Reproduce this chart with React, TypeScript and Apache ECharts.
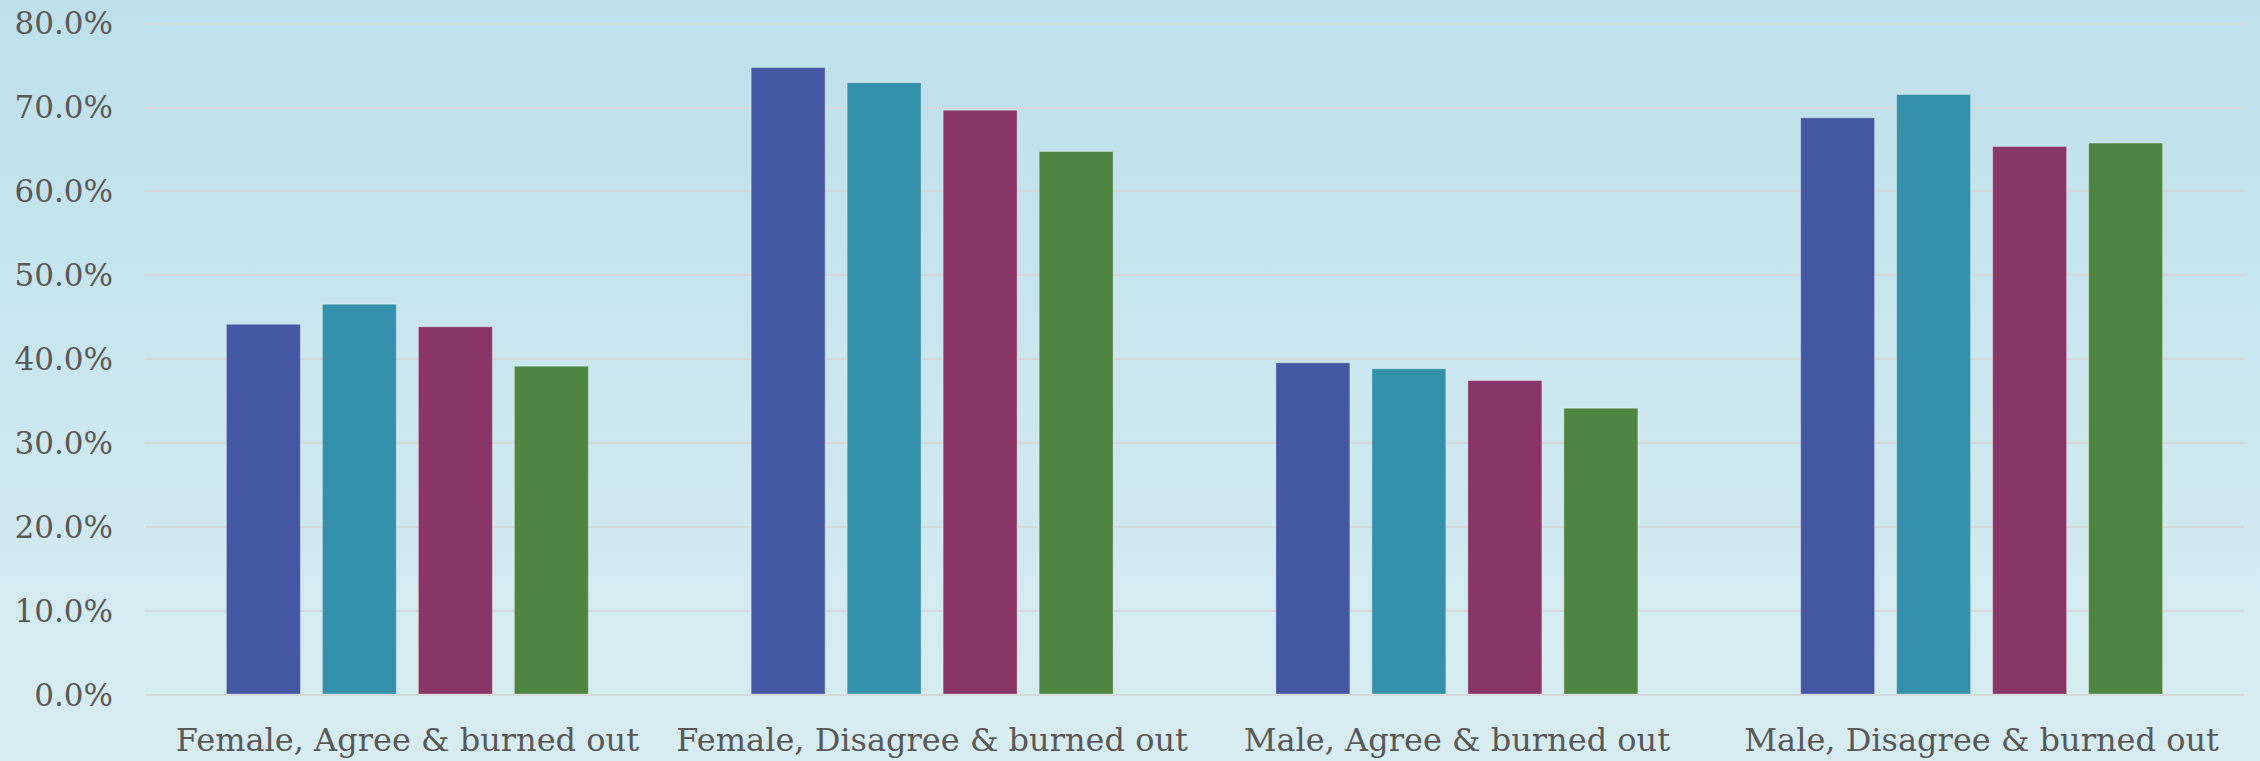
import React, { useEffect, useRef } from "react";
import * as echarts from "echarts";

const categories = [
  "Female, Agree & burned out",
  "Female, Disagree & burned out",
  "Male, Agree & burned out",
  "Male, Disagree & burned out",
];

const seriesNames = ["Series 1", "Series 2", "Series 3", "Series 4"];
const series1 = [44.2, 74.8, 39.6, 68.8];
const series2 = [46.6, 73.0, 38.9, 71.6];
const series3 = [43.9, 69.7, 37.5, 65.4];
const series4 = [39.2, 64.8, 34.2, 65.8];
const seriesColors = ["#4457A2", "#3591AB", "#893666", "#4E8541"];

const yMin = 0;
const yMax = 80;
const yInterval = 10;

const FONT = "Georgia, 'DejaVu Serif', serif";

export default function App() {
  const ref = useRef<HTMLDivElement>(null);

  useEffect(() => {
    if (!ref.current) return;
    const chart = echarts.init(ref.current, null, { renderer: "svg" });
    const data = [series1, series2, series3, series4];
    chart.setOption({
      animation: false,
      backgroundColor: {
        type: "linear",
        x: 0,
        y: 0,
        x2: 0,
        y2: 1,
        colorStops: [
          { offset: 0, color: "#BDE0EA" },
          { offset: 1, color: "#D8EDF2" },
        ],
      },
      grid: { left: 145, right: 16, top: 23.4, bottom: 66.4, containLabel: false },
      xAxis: {
        type: "category",
        data: categories,
        axisLine: { show: false },
        axisTick: { show: false },
        axisLabel: {
          color: "#595959",
          fontFamily: FONT,
          fontSize: 32,
          margin: 29,
          interval: 0,
        },
      },
      yAxis: {
        type: "value",
        min: yMin,
        max: yMax,
        interval: yInterval,
        axisLine: { show: false },
        axisTick: { show: false },
        splitLine: { lineStyle: { color: "#D6D9DB", width: 2 } },
        axisLabel: {
          color: "#595959",
          fontFamily: FONT,
          fontSize: 31,
          margin: 32,
          formatter: (v: number) => v.toFixed(1) + "%",
        },
      },
      series: data.map((d, i) => ({
        name: seriesNames[i],
        type: "bar",
        data: d,
        barWidth: 75,
        barGap: "28%",
        itemStyle: {
          color: seriesColors[i],
          borderColor: "rgba(255,255,255,0.35)",
          borderWidth: 1,
        },
      })),
    });
    return () => chart.dispose();
  }, []);

  return (
    <div
      ref={ref}
      style={{ position: "fixed", left: 0, top: 0, width: 2260, height: 761 }}
    />
  );
}
